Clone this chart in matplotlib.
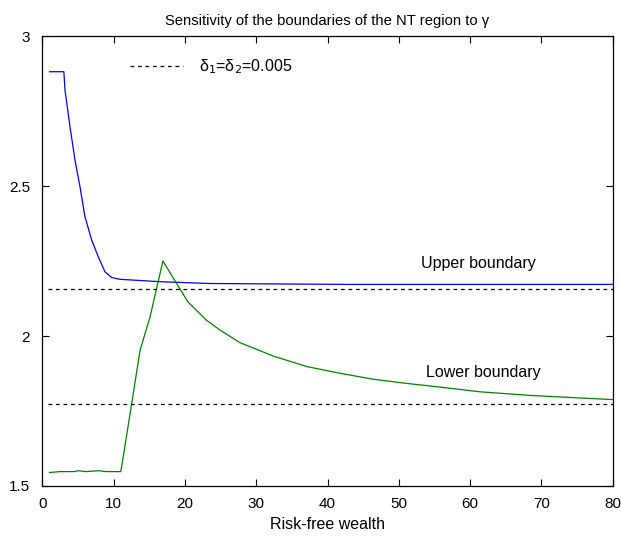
import matplotlib
matplotlib.use("Agg")
import matplotlib.pyplot as plt

plt.rcParams['font.family'] = ['Liberation Sans', 'DejaVu Sans']

# upper boundary of the NT region
upper_x = [1, 3, 3.16, 3.86, 4.56, 5.26, 5.96, 6.9, 7.83, 8.77, 9.7, 10.87, 12.3,
           16.5, 23.5, 43, 80]
upper_y = [2.881, 2.881, 2.82, 2.698, 2.587, 2.498, 2.398, 2.32, 2.264, 2.214, 2.195,
           2.189, 2.187, 2.181, 2.175, 2.172, 2.172]

# lower boundary of the NT region
lower_x = [1, 2.5, 4.5, 5, 6, 8, 8.5, 9, 11, 12.5, 13.7, 15.1, 16.9, 18.8, 20.4, 23,
           24.9, 27.7, 32.4, 37.1, 41.7, 46.4, 51.1, 55.3, 61.4, 68.4, 80]
lower_y = [1.545, 1.548, 1.548, 1.551, 1.548, 1.551, 1.549, 1.548, 1.548, 1.772, 1.953,
           2.064, 2.25, 2.176, 2.114, 2.053, 2.02, 1.978, 1.933, 1.898, 1.876, 1.856,
           1.842, 1.831, 1.814, 1.802, 1.788]

# delta1 = delta2 = 0.005 boundaries
ref_x = [0.8, 80]
ref_upper = 2.158
ref_lower = 1.772

fig = plt.figure(figsize=(6.21, 5.36), dpi=100)
ax = fig.add_axes([0.0684, 0.0933, 0.918, 0.8395])

ax.plot(upper_x, upper_y, color='#0000ff', lw=0.9)
ax.plot(lower_x, lower_y, color='#008000', lw=0.9)
ax.plot(ref_x, [ref_upper, ref_upper], 'k--', lw=0.9, dashes=(3, 3),
        label='δ$_1$=δ$_2$=0.005')
ax.plot(ref_x, [ref_lower, ref_lower], 'k--', lw=0.9, dashes=(3, 3))

ax.text(61.2, 2.243, 'Upper boundary', ha='center', va='center', fontsize=11.5)
ax.text(61.9, 1.877, 'Lower boundary', ha='center', va='center', fontsize=11.5)

ax.set_xlim(0, 80)
ax.set_ylim(1.5, 3)
ax.set_xticks(range(0, 81, 10))
ax.set_yticks([1.5, 2, 2.5, 3])
ax.set_yticklabels(['1.5', '2', '2.5', '3'])
ax.tick_params(direction='in', top=True, right=True, length=5, labelsize=11)
ax.tick_params(axis='y', pad=9)
ax.tick_params(axis='x', pad=8)
for s in ax.spines.values():
    s.set_linewidth(0.9)

ax.set_title('Sensitivity of the boundaries of the NT region to γ', fontsize=10.6, pad=8)
ax.set_xlabel('Risk-free wealth', fontsize=11.5, labelpad=4)

leg = ax.legend(loc='upper left', bbox_to_anchor=(0.128, 0.985), frameon=False,
                fontsize=11.5, handlelength=3.3, handletextpad=1.0)

fig.savefig('out.png', dpi=100)
